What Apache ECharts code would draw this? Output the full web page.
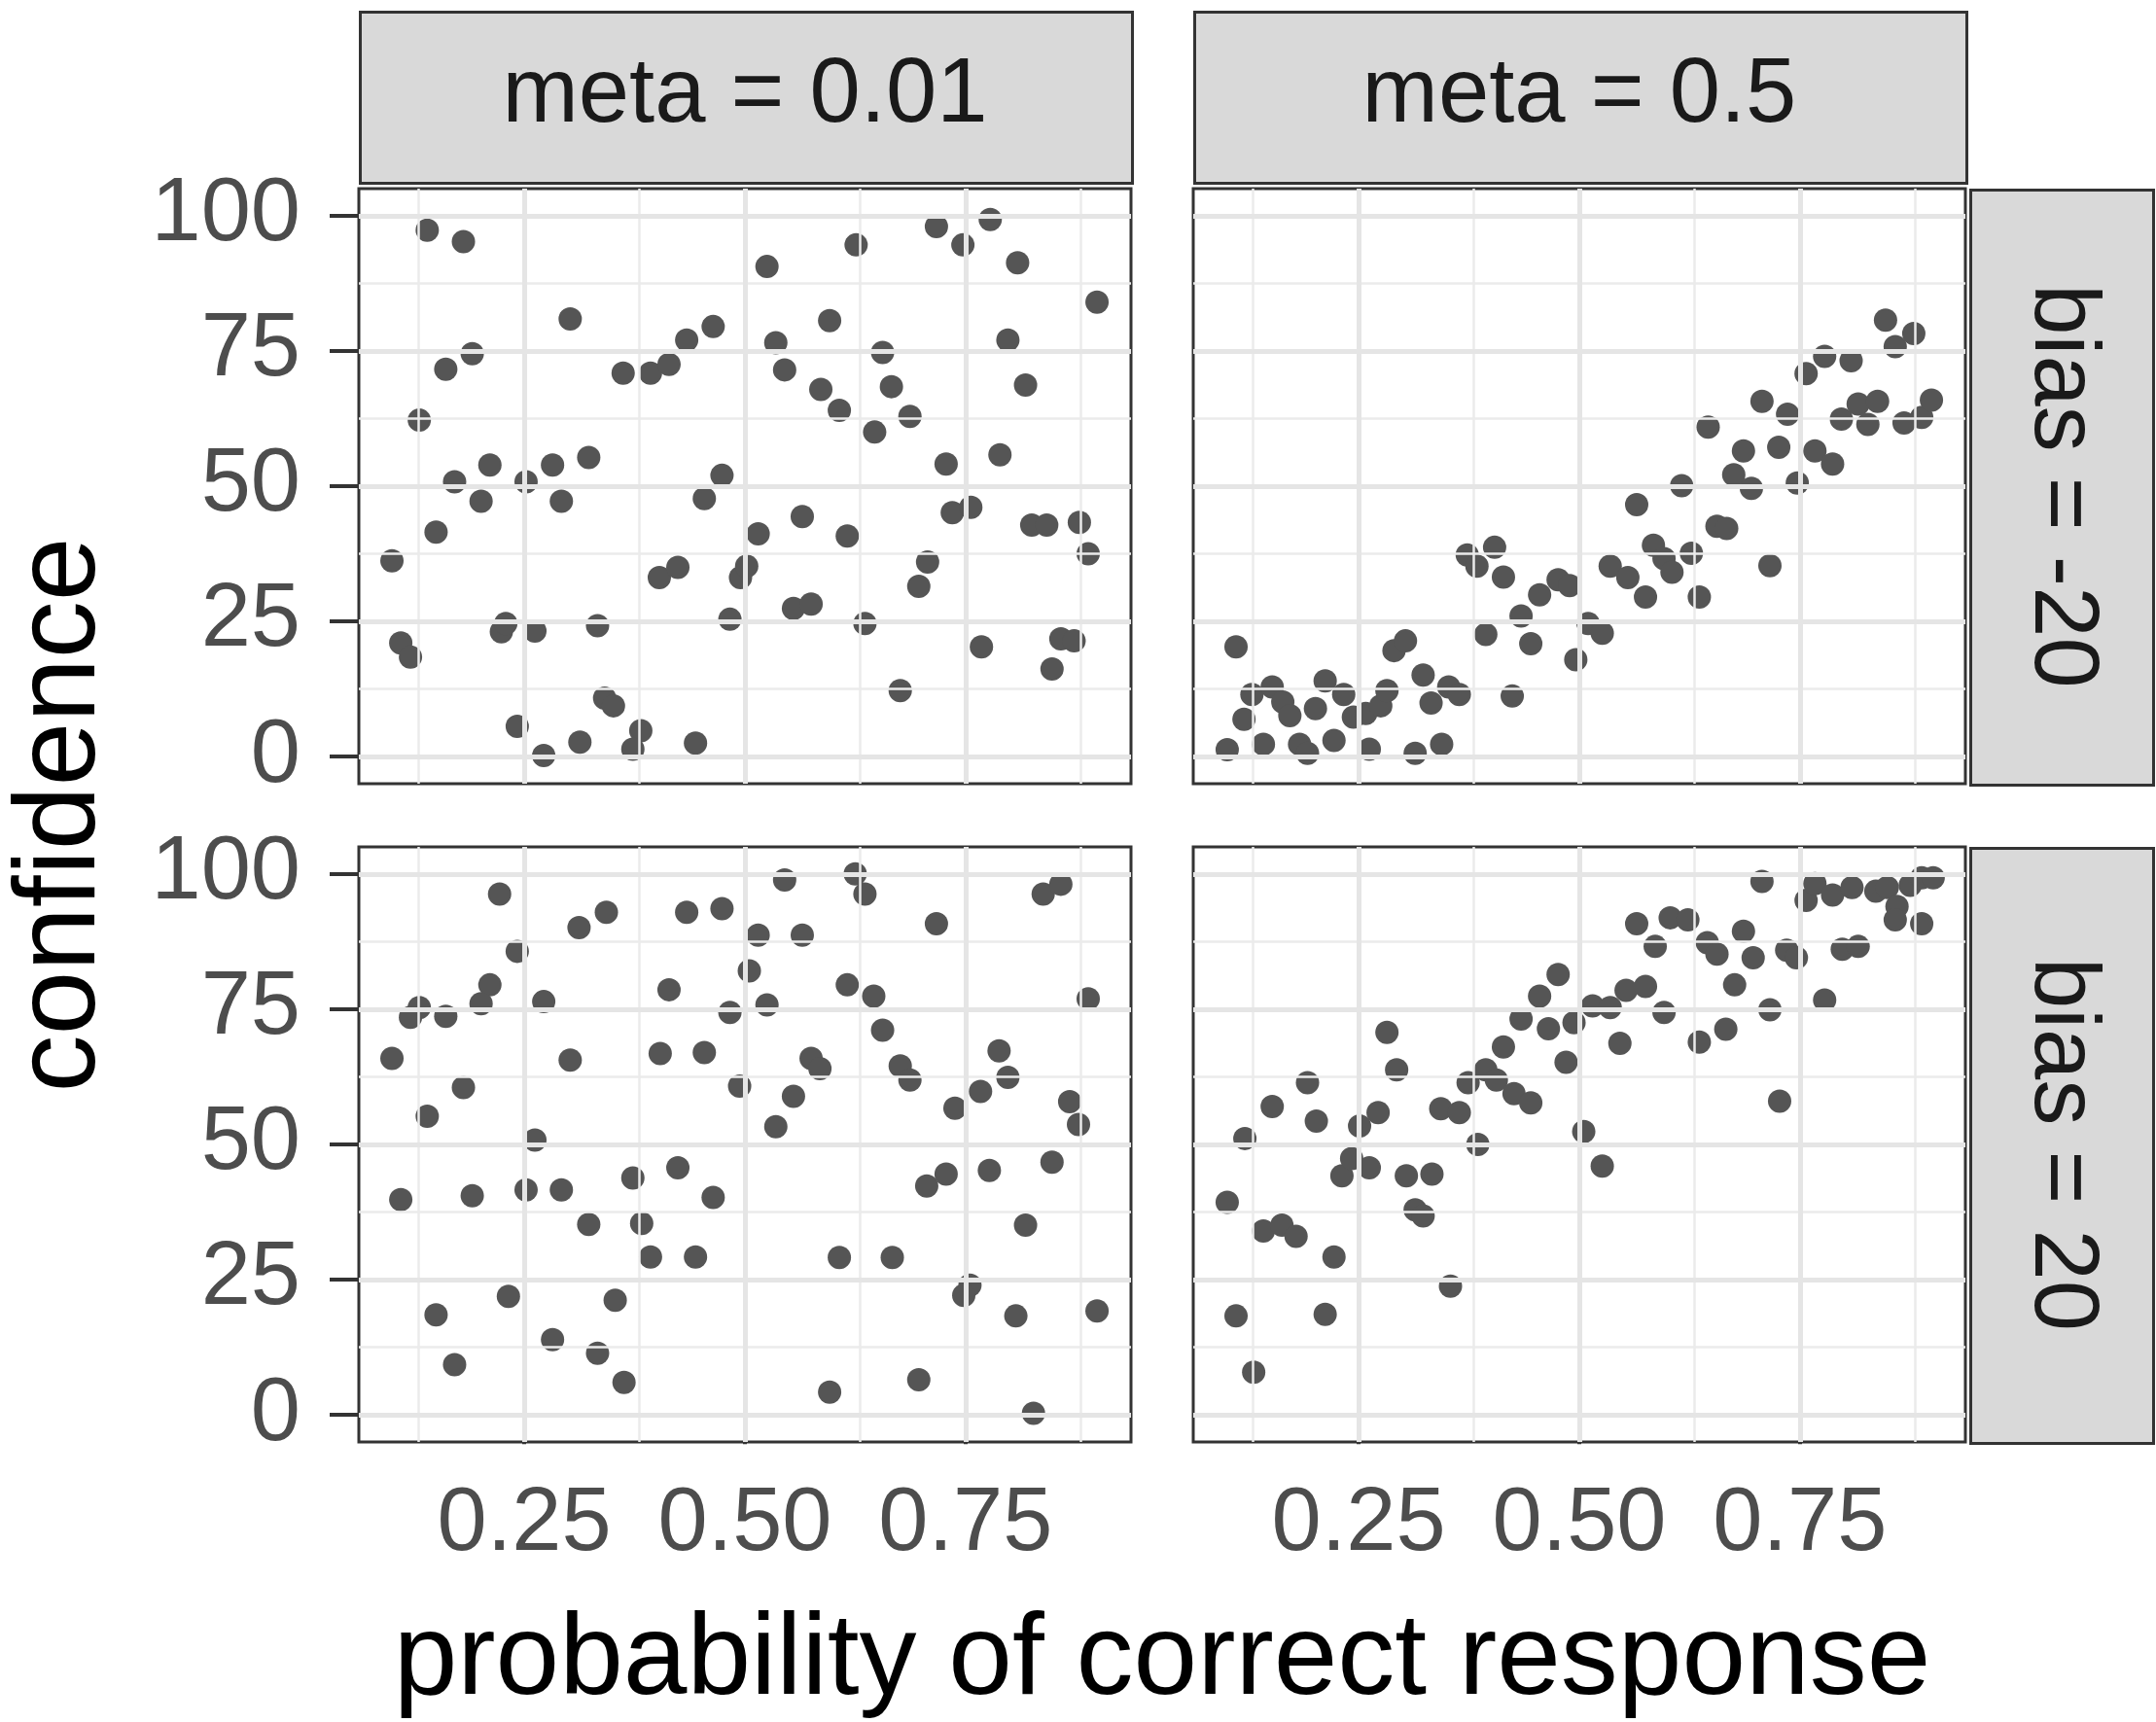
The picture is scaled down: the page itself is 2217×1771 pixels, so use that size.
<!DOCTYPE html>
<html>
<head>
<meta charset="utf-8">
<script src="https://cdn.jsdelivr.net/npm/echarts@6/dist/echarts.min.js"></script>
<style>
html,body{margin:0;padding:0;background:#fff;}
#chart{width:2217px;height:1771px;}
</style>
</head>
<body>
<div id="chart"></div>
<script>
//刻度与分面标签
var xTicks=[0.25,0.5,0.75];
var xMinor=[0.125,0.375,0.625,0.875];
var yTicks=[0,25,50,75,100];
var yMinor=[12.5,37.5,62.5,87.5];
var colLabels=['meta = 0.01','meta = 0.5'];
var rowLabels=['bias = -20','bias = 20'];

//meta = 0.01, bias = -20
var xP1=[0.140,0.181,0.302,0.191,0.161,0.131,0.362,0.393,0.414,0.434,0.464,0.211,0.171,0.201,0.252,0.282,0.292,0.323,0.474,0.454,
	0.150,0.100,0.403,0.424,0.495,0.502,0.224,0.229,0.262,0.333,0.483,0.110,0.121,0.341,0.351,0.242,0.272,0.313,0.382,0.373,0.444,
	0.525,0.626,0.717,0.778,0.747,0.809,0.899,0.596,0.535,0.545,0.656,0.666,0.586,0.607,0.687,0.647,0.798,0.818,0.728,0.789,
	0.735,0.756,0.825,0.842,0.879,0.889,0.565,0.515,0.616,0.707,0.697,0.555,0.575,0.636,0.768,0.858,0.873,0.848,0.676];
var yP1=[97.3,95.2,80.9,74.5,71.6,62.2,70.9,70.9,72.5,77.0,79.5,53.9,50.8,47.2,50.8,53.9,47.2,55.3,52.0,47.7,
	41.5,36.2,33.1,35.0,33.1,35.2,23.1,24.6,23.2,24.2,25.4,21.0,18.4,10.8,9.4,5.6,0.2,2.7,4.8,1.4,2.5,
	90.6,94.6,98.0,99.3,94.6,91.3,84.0,80.6,76.5,71.5,74.7,68.4,67.9,64.0,62.9,60.0,77.0,68.7,54.1,55.8,
	45.1,46.1,42.8,42.8,43.3,37.5,44.4,41.2,40.8,36.0,31.5,27.4,28.2,24.6,20.3,21.8,21.4,16.2,12.2];

//meta = 0.5, bias = -20
var xP2=[0.111,0.101,0.120,0.129,0.152,0.164,0.172,0.142,0.183,0.192,0.201,0.212,0.233,0.222,0.244,0.258,0.275,0.282,0.262,0.290,
	0.303,0.323,0.332,0.352,0.364,0.314,0.344,0.373,0.384,0.404,0.414,0.394,0.424,0.434,0.445,0.455,0.476,0.489,0.496,
	0.510,0.526,0.535,0.555,0.575,0.584,0.596,0.605,0.627,0.636,0.565,0.616,0.646,0.656,0.667,0.675,0.695,0.686,0.707,0.736,
	0.726,0.716,0.747,0.767,0.787,0.757,0.778,0.808,0.797,0.816,0.827,0.838,0.847,0.858,0.879,0.868,0.888,0.899];
var yP2=[20.3,1.3,6.9,11.5,12.9,10.1,7.6,2.3,2.3,0.6,8.9,14.0,11.5,3.0,7.3,8.0,9.4,12.2,1.4,19.6,
	21.4,15.1,9.9,12.9,11.5,0.6,2.3,37.3,35.2,38.7,33.2,22.6,11.2,26.0,20.9,29.9,32.7,31.6,17.9,
	24.6,22.8,35.2,33.1,29.5,39.1,36.6,34.1,37.6,29.5,46.6,50.1,60.9,42.6,42.2,52.1,49.6,56.5,65.7,63.3,
	57.2,35.3,50.6,56.5,54.1,70.8,74.0,73.2,62.4,65.2,61.4,65.7,80.7,75.8,78.2,61.7,62.7,65.9];

//meta = 0.01, bias = 20
var xP3=[0.222,0.312,0.343,0.242,0.434,0.474,0.211,0.201,0.131,0.121,0.161,0.272,0.100,0.302,0.414,0.404,0.454,0.483,0.494,0.181,
	0.140,0.262,0.110,0.191,0.252,0.292,0.373,0.424,0.464,0.323,0.383,0.393,0.444,0.232,0.353,0.150,0.282,0.333,0.171,0.363,
	0.545,0.625,0.636,0.717,0.838,0.858,0.515,0.565,0.505,0.616,0.646,0.525,0.889,0.656,0.575,0.585,0.676,0.687,0.788,0.798,
	0.767,0.738,0.555,0.535,0.868,0.878,0.848,0.777,0.706,0.728,0.818,0.607,0.667,0.755,0.748,0.807,0.899,0.697,0.596,0.827];
var yP3=[96.3,90.1,92.9,85.7,92.9,93.6,79.5,76.0,75.3,73.5,73.7,76.4,65.9,65.6,78.6,66.8,67.0,74.4,60.8,60.5,
	55.2,50.8,39.8,40.5,41.6,41.6,43.8,45.7,40.2,35.2,35.4,29.2,29.2,21.9,21.2,18.5,13.9,11.4,9.3,6.0,
	98.9,100,96.3,90.8,96.3,98.1,88.7,88.7,82.1,79.5,77.4,75.8,76.9,71.1,65.9,64.0,64.5,61.9,67.3,62.4,
	59.8,56.7,58.9,53.3,57.9,53.7,46.7,45.2,42.3,44.5,35.1,29.1,29.1,24.0,22.1,18.3,19.2,6.5,4.2,0.3];

//meta = 0.5, bias = 20
var xP4=[0.101,0.121,0.111,0.131,0.152,0.142,0.163,0.179,0.192,0.202,0.222,0.212,0.231,0.242,0.262,0.251,0.272,0.282,0.293,0.304,
	0.333,0.314,0.323,0.354,0.343,0.364,0.385,0.374,0.394,0.406,0.426,0.445,0.414,0.434,0.455,0.476,0.465,0.494,0.485,0.505,
	0.515,0.535,0.553,0.575,0.596,0.546,0.526,0.565,0.586,0.603,0.623,0.645,0.656,0.686,0.697,0.676,0.636,0.666,0.716,0.707,
	0.735,0.746,0.727,0.778,0.757,0.767,0.787,0.809,0.798,0.816,0.836,0.849,0.860,0.858,0.875,0.888,0.901,0.888];
var yP4=[39.3,51.1,18.3,7.9,57.0,34.0,35.1,33.0,61.4,54.3,29.2,18.6,44.2,47.4,45.7,53.4,55.9,70.7,63.8,44.2,
	44.5,37.9,36.8,23.8,56.6,55.9,50.0,61.4,63.8,61.9,59.4,57.7,68.0,73.2,77.4,81.4,71.4,72.5,65.2,52.4,
	75.6,75.3,78.5,79.2,74.4,68.7,46.0,90.8,86.6,91.9,91.5,87.3,85.2,89.4,84.5,79.5,68.9,71.3,74.9,98.6,
	85.9,84.5,58.0,76.7,95.1,98.2,96.1,97.5,86.1,86.6,96.8,97.5,94.0,91.5,97.9,99.3,99.3,90.8];

var panelX=[xP1,xP2,xP3,xP4];
var panelY=[yP1,yP2,yP3,yP4];

var drawFacets=(function () {
	var font='"Liberation Sans", Arial, Helvetica, sans-serif';
	var gridLeft=[369,1227];
	var gridTop=[194,871];
	var gridW=794, gridH=612;

	var zip=function (xs,ys) {
		var out=[];
		for (var i=0;i<xs.length;i++) out.push([xs[i],ys[i]]);
		return out;
	};

	//背景网格线 (用markLine画在面板里)
	var gridLines=function (idx) {
		var lines=[];
		xMinor.forEach(function (v) {lines.push({xAxis:v,lineStyle:{color:'#ebebeb',width:2.5,type:'solid'}});});
		yMinor.forEach(function (v) {lines.push({yAxis:v,lineStyle:{color:'#ebebeb',width:2.5,type:'solid'}});});
		xTicks.forEach(function (v) {lines.push({xAxis:v,lineStyle:{color:'#e5e5e5',width:5,type:'solid'}});});
		yTicks.forEach(function (v) {lines.push({yAxis:v,lineStyle:{color:'#e5e5e5',width:5,type:'solid'}});});
		return {
			type:'scatter',xAxisIndex:idx,yAxisIndex:idx,data:[],z:1,silent:true,
			markLine:{silent:true,symbol:['none','none'],label:{show:false},animation:false,data:lines}
		};
	};

	var grids=[],xAxes=[],yAxes=[],series=[];
	for (var p=0;p<4;p++) {
		var col=p%2, row=Math.floor(p/2);
		grids.push({left:gridLeft[col],top:gridTop[row],width:gridW,height:gridH,show:true,
			backgroundColor:'#fff',borderColor:'#333',borderWidth:3});
		xAxes.push({
			type:'value',gridIndex:p,min:0.0625,max:0.9375,
			splitLine:{show:false},axisLine:{show:false},
			axisTick:{show:row===1,customValues:xTicks,length:30,lineStyle:{color:'#333',width:4}},
			axisLabel:{show:row===1,customValues:xTicks,margin:40,fontSize:92,color:'#4d4d4d',fontFamily:font,
				formatter:function (v) {return v.toFixed(2);}}
		});
		yAxes.push({
			type:'value',gridIndex:p,min:-5,max:105,
			splitLine:{show:false},axisLine:{show:false},
			axisTick:{show:col===0,customValues:yTicks,length:30,lineStyle:{color:'#333',width:4}},
			axisLabel:{show:col===0,customValues:yTicks,margin:60,fontSize:92,color:'#4d4d4d',fontFamily:font}
		});
		series.push(gridLines(p));
		series.push({
			type:'scatter',xAxisIndex:p,yAxisIndex:p,z:3,
			symbolSize:24,itemStyle:{color:'#555555',opacity:1},
			data:zip(panelX[p],panelY[p])
		});
	}

	//分面标签条
	var graphic=[];
	colLabels.forEach(function (t,i) {
		graphic.push({type:'rect',left:gridLeft[i],top:11,shape:{width:gridW,height:176},
			style:{fill:'#d9d9d9',stroke:'#333',lineWidth:3}});
		graphic.push({type:'text',x:gridLeft[i]+gridW/2,y:99,
			style:{text:t,fill:'#1a1a1a',font:'94px '+font,textAlign:'center',textVerticalAlign:'middle'}});
	});
	rowLabels.forEach(function (t,i) {
		graphic.push({type:'rect',left:2025,top:gridTop[i],shape:{width:188,height:gridH},
			style:{fill:'#d9d9d9',stroke:'#333',lineWidth:3}});
		graphic.push({type:'text',x:2119,y:gridTop[i]+gridH/2,rotation:-Math.PI/2,
			style:{text:t,fill:'#1a1a1a',font:'94px '+font,textAlign:'center',textVerticalAlign:'middle'}});
	});
	//坐标轴标题
	graphic.push({type:'text',x:1195,y:1709,
		style:{text:'probability of correct response',fill:'#000',font:'118px '+font,textAlign:'center',textVerticalAlign:'middle'}});
	graphic.push({type:'text',x:64,y:838,rotation:Math.PI/2,
		style:{text:'confidence',fill:'#000',font:'118px '+font,textAlign:'center',textVerticalAlign:'middle'}});

	var myChart=echarts.init(document.getElementById('chart'));
	myChart.setOption({
		animation:false,
		backgroundColor:'#ffffff',
		grid:grids,
		xAxis:xAxes,
		yAxis:yAxes,
		series:series,
		graphic:graphic
	});
})();
</script>
</body>
</html>
